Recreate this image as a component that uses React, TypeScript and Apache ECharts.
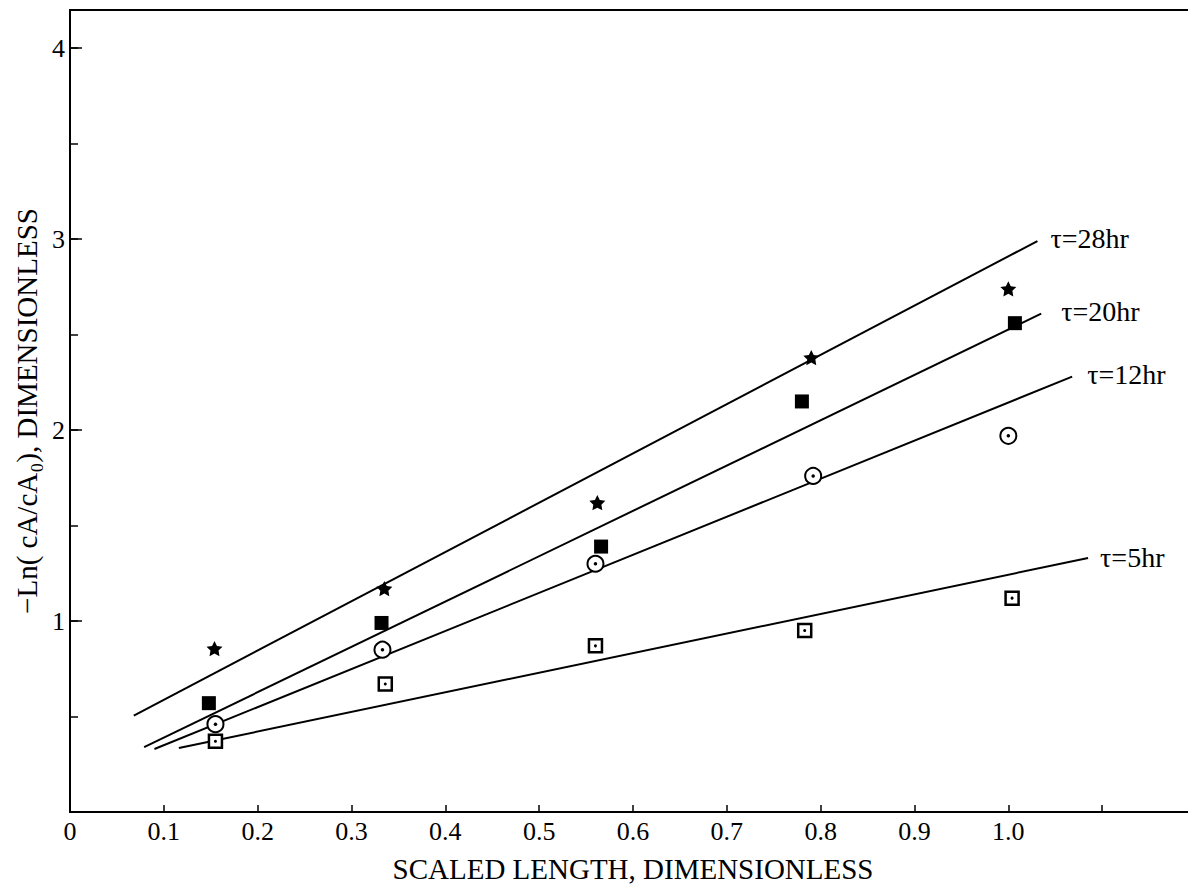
import React, { useEffect, useRef } from "react";
import * as echarts from "echarts";

const FONT = "'Liberation Serif', 'Times New Roman', serif";

// Axis texts
const xAxisTitle = "SCALED LENGTH, DIMENSIONLESS";
const yAxisTitle = "−Ln( cA/cA₀), DIMENSIONLESS";

// Fitted lines: [scaled length, -Ln(cA/cA0)] end points
const fitNames = ["τ=28hr", "τ=20hr", "τ=12hr", "τ=5hr"];
const fit28 = [[0.068, 0.505], [1.031, 2.99]];
const fit20 = [[0.079, 0.34], [1.035, 2.61]];
const fit12 = [[0.09, 0.33], [1.068, 2.28]];
const fit5 = [[0.116, 0.335], [1.085, 1.33]];

// Measured points
const star28 = [[0.154, 0.856], [0.335, 1.17], [0.562, 1.62], [0.79, 2.38], [1.0, 2.74]];
const square20 = [[0.148, 0.57], [0.332, 0.99], [0.566, 1.39], [0.78, 2.15], [1.007, 2.56]];
const circle12 = [[0.155, 0.46], [0.333, 0.85], [0.56, 1.3], [0.792, 1.76], [1.0, 1.97]];
const openSquare5 = [[0.155, 0.37], [0.336, 0.67], [0.56, 0.87], [0.783, 0.95], [1.004, 1.12]];

const STAR =
  "path://M0,-10 L2.9,-4 L9.5,-3.1 L4.8,1.5 L5.9,8.1 L0,5 L-5.9,8.1 L-4.8,1.5 L-9.5,-3.1 L-2.9,-4 Z";

const labelOffsets: number[][] = [[13, -3], [20, -2], [15, -2], [12, -1]];

function fitSeries(data: number[][], i: number) {
  return {
    type: "line",
    data,
    symbol: "none",
    silent: true,
    z: 2,
    lineStyle: { color: "#000", width: 2 },
    endLabel: {
      show: true,
      formatter: fitNames[i],
      distance: 0,
      offset: labelOffsets[i],
      fontFamily: FONT,
      fontSize: 28,
      color: "#000",
      align: "left",
      verticalAlign: "middle",
    },
  };
}

export default function App() {
  const ref = useRef<HTMLDivElement>(null);
  useEffect(() => {
    if (!ref.current) return;
    const chart = echarts.init(ref.current, null, { renderer: "svg" });
    const option = {
      animation: false,
      backgroundColor: "#fff",
      grid: {
        left: 70,
        top: 10,
        width: 1126,
        height: 802,
        outerBoundsMode: "none",
        containLabel: false,
        show: true,
        borderColor: "#000",
        borderWidth: 2,
        backgroundColor: "transparent",
      },
      xAxis: {
        type: "value",
        min: 0,
        max: 1.2,
        interval: 0.1,
        axisLine: { lineStyle: { color: "#000", width: 2 } },
        axisTick: { inside: true, length: 7, lineStyle: { color: "#000", width: 1.5 } },
        axisLabel: {
          margin: 6,
          fontFamily: FONT,
          fontSize: 26,
          color: "#000",
          formatter: (v: number) => (v === 0 ? "0" : v > 1.05 ? "" : v.toFixed(1)),
        },
        splitLine: { show: false },
        name: xAxisTitle,
        nameLocation: "middle",
        nameGap: 42,
        nameTextStyle: { fontFamily: FONT, fontSize: 29, color: "#000" },
      },
      yAxis: [
        {
          type: "value",
          min: 0,
          max: 4.2,
          interval: 1,
          axisLine: { lineStyle: { color: "#000", width: 2 } },
          axisTick: { inside: true, length: 12, lineStyle: { color: "#000", width: 1.5 } },
          axisLabel: {
            margin: 5,
            fontFamily: FONT,
            fontSize: 26,
            color: "#000",
            formatter: (v: number) => (v === 0 || v > 4.05 ? "" : String(v)),
          },
          splitLine: { show: false },
          name: yAxisTitle,
          nameLocation: "middle",
          nameRotate: 90,
          nameGap: 27,
          nameTextStyle: { fontFamily: FONT, fontSize: 29, color: "#000" },
        },
        {
          type: "value",
          min: 0,
          max: 4.2,
          interval: 0.5,
          position: "left",
          axisLine: { show: false },
          axisTick: { inside: true, length: 8, lineStyle: { color: "#000", width: 1.5 } },
          axisLabel: { show: false },
          splitLine: { show: false },
        },
      ],
      series: [
        fitSeries(fit28, 0),
        fitSeries(fit20, 1),
        fitSeries(fit12, 2),
        fitSeries(fit5, 3),
        {
          type: "scatter",
          data: star28,
          symbol: STAR,
          symbolSize: 16,
          symbolKeepAspect: true,
          itemStyle: { color: "#000", opacity: 1 },
          z: 3,
        },
        {
          type: "scatter",
          data: square20,
          symbol: "rect",
          symbolSize: 14,
          itemStyle: { color: "#000", opacity: 1 },
          z: 3,
        },
        {
          type: "scatter",
          data: circle12,
          symbol: "circle",
          symbolSize: 16,
          itemStyle: { color: "#fff", borderColor: "#000", borderWidth: 2, opacity: 1 },
          z: 3,
        },
        {
          type: "scatter",
          data: circle12,
          symbol: "circle",
          symbolSize: 3.5,
          itemStyle: { color: "#000", opacity: 1 },
          z: 4,
        },
        {
          type: "scatter",
          data: openSquare5,
          symbol: "rect",
          symbolSize: 13,
          itemStyle: { color: "#fff", borderColor: "#000", borderWidth: 2.5, opacity: 1 },
          z: 3,
        },
        {
          type: "scatter",
          data: openSquare5,
          symbol: "circle",
          symbolSize: 3,
          itemStyle: { color: "#000", opacity: 1 },
          z: 4,
        },
      ],
    };
    chart.setOption(option as any);
    return () => chart.dispose();
  }, []);
  return (
    <div
      ref={ref}
      style={{ position: "fixed", left: 0, top: 0, width: 1188, height: 886, background: "#fff" }}
    />
  );
}
